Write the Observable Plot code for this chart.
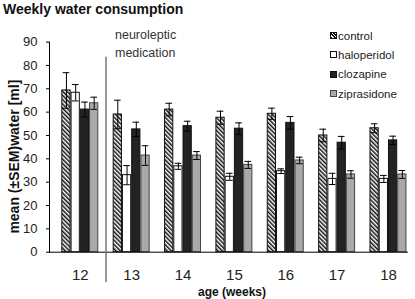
<!DOCTYPE html>
<html><head><meta charset="utf-8">
<script src="https://cdn.jsdelivr.net/npm/d3@7"></script>
<script src="https://cdn.jsdelivr.net/npm/@observablehq/plot@0.6"></script>
<style>
body{margin:0;background:#fff;}
#wrap{position:relative;width:415px;height:299px;overflow:hidden;}
#title{position:absolute;left:3px;top:1px;font:bold 14px "Liberation Sans",Arial,sans-serif;color:#111;white-space:nowrap;}
#legend{position:absolute;left:330px;top:26px;font:11.5px "Liberation Sans",Arial,sans-serif;color:#222;}
#legend .row{height:19.3px;line-height:14px;display:flex;align-items:center;white-space:nowrap;}
#legend .sw{width:5px;height:5px;border:1px solid #111;margin-right:1px;box-sizing:content-box;}
</style></head><body>
<div id="wrap"><div id="chart"></div><div id="title">Weekly water consumption</div><div id="legend"></div></div>
<script>
const weeks = [12, 13, 14, 15, 16, 17, 18];
const series = ["control", "haloperidol", "clozapine", "ziprasidone"];
const control        = [69.3, 59.0, 61.1, 57.6, 59.3, 50.0, 53.1];
const controlSem     = [7.6, 6.1, 2.7, 2.8, 2.4, 2.7, 1.9];
const haloperidol    = [68.3, 33.0, 36.8, 32.3, 34.7, 31.4, 31.4];
const haloperidolSem = [3.5, 4.1, 1.3, 1.5, 1.0, 2.4, 1.5];
const clozapine      = [61.1, 52.6, 54.0, 52.9, 55.4, 46.9, 47.9];
const clozapineSem   = [3.2, 3.1, 2.1, 2.5, 2.7, 2.7, 1.8];
const ziprasidone    = [63.8, 41.4, 41.4, 37.4, 39.3, 33.3, 33.3];
const ziprasidoneSem = [2.6, 4.2, 1.7, 1.5, 1.4, 1.6, 1.7];
const yTicks = [0, 10, 20, 30, 40, 50, 60, 70, 80, 90];
const medicationLabel = "neuroleptic\nmedication";
const yLabel = "mean (\u00B1SEM)water [ml]";
const xLabel = "age (weeks)";
const medicationStart = 12.5;

const fills = {control: "url(#hatch)", haloperidol: "#ffffff", clozapine: "#232323", ziprasidone: "#a9a9a9"};
const strokes = {control: "#111", haloperidol: "#111", clozapine: "#111", ziprasidone: "#444"};
const means = [control, haloperidol, clozapine, ziprasidone];
const sems = [controlSem, haloperidolSem, clozapineSem, ziprasidoneSem];

const slot = 0.18; // width of one bar within a week group, in week units
const cap = 0.065;
const rows = [];
series.forEach((s, i) => weeks.forEach((w, j) => {
  rows.push({week: w, series: s, mean: means[i][j], sem: sems[i][j],
    x1: w + (i - 2) * slot, x2: w + (i - 1) * slot, xc: w + (i - 1.5) * slot});
}));

const narrow = "'Liberation Sans Narrow','Arial Narrow','Liberation Sans',sans-serif";

const chart = Plot.plot({
  width: 415, height: 299,
  marginLeft: 49, marginRight: 7, marginTop: 41.6, marginBottom: 47.3,
  x: {domain: [11.4, 18.39], axis: null, label: null},
  y: {domain: [0, 90], axis: null, label: null},
  color: {type: "identity"},
  style: {background: "transparent", fontFamily: "'Liberation Sans',Arial,sans-serif"},
  marks: [
    Plot.rectY(rows, {x1: "x1", x2: "x2", y: "mean", fill: d => fills[d.series], stroke: d => strokes[d.series], strokeWidth: 1, insetLeft: 0.5, insetRight: 0.5}),
    Plot.ruleX(rows, {x: "xc", y1: d => d.mean - d.sem, y2: d => d.mean + d.sem, stroke: "#000", strokeWidth: 1}),
    Plot.ruleY(rows, {y: d => d.mean + d.sem, x1: d => d.xc - cap, x2: d => d.xc + cap, stroke: "#000", strokeWidth: 1}),
    Plot.ruleY(rows, {y: d => d.mean - d.sem, x1: d => d.xc - cap, x2: d => d.xc + cap, stroke: "#000", strokeWidth: 1}),
    Plot.frame({anchor: "left", stroke: "#000"}),
    Plot.ruleY([0], {stroke: "#000"}),
    Plot.axisY({ticks: yTicks, label: null, tickSize: 3, tickPadding: 9, fontSize: 13, fontFamily: narrow, fill: "#222", stroke: "#000"}),
    Plot.axisX({ticks: weeks, label: null, tickSize: 0, tickPadding: 17, fontSize: 15, fontFamily: narrow, fill: "#222", tickFormat: d => String(d)}),
    Plot.ruleX([medicationStart], {y1: -13, y2: 83.5, stroke: "#777", strokeWidth: 1.5}),
    Plot.text([medicationLabel], {x: medicationStart, y: 90, dx: 9, textAnchor: "start", lineAnchor: "middle", lineHeight: 1.44, fontSize: 12.5, fill: "#333"}),
    Plot.text([yLabel], {frameAnchor: "left", textAnchor: "middle", lineAnchor: "middle", rotate: -90, dx: -35, dy: 9.5, fontSize: 14, fontWeight: "bold", fill: "#111"}),
    Plot.text([xLabel], {frameAnchor: "bottom", textAnchor: "middle", lineAnchor: "middle", dx: 3, dy: 40, fontSize: 12, fontWeight: "bold", fill: "#111"})
  ]
});

const svgSel = d3.select(chart);
const pat = svgSel.insert("defs", ":first-child").append("pattern")
  .attr("id", "hatch").attr("patternUnits", "userSpaceOnUse")
  .attr("width", 3).attr("height", 3).attr("patternTransform", "rotate(-45)");
pat.append("rect").attr("width", 3).attr("height", 3).attr("fill", "#fff");
pat.append("rect").attr("width", 1.5).attr("height", 3).attr("fill", "#111");

document.getElementById("chart").appendChild(chart);

const legend = d3.select("#legend");
series.forEach(s => {
  const row = legend.append("div").attr("class", "row");
  const sw = row.append("div").attr("class", "sw").style("border-color", strokes[s]);
  if (s === "control") sw.style("background", "repeating-linear-gradient(45deg,#111 0 1.2px,#fff 1.2px 2.4px)");
  else sw.style("background", fills[s]);
  row.append("span").text(s);
});
</script>
</body></html>
